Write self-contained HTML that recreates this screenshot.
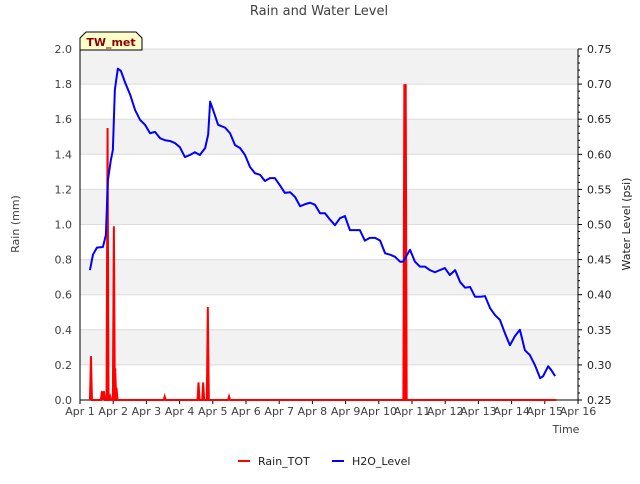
<!DOCTYPE html>
<html><head><meta charset="utf-8"><style>
body{margin:0;background:#fff;font-family:"DejaVu Sans","Liberation Sans",sans-serif;}
svg text{font-family:"DejaVu Sans","Liberation Sans",sans-serif;}
</style></head><body>
<svg id="c" width="640" height="480" xmlns="http://www.w3.org/2000/svg">
<text x="319" y="15" text-anchor="middle" font-size="13" fill="#404040">Rain and Water Level</text>
<g id="bands"></g><g id="grid"></g>
<g id="axes"></g>
<g id="series"></g>
<g>
<path d="M80,50 L80,38 L86,32 L136,32 L142,38 L142,50 Z" fill="#ffffcc" stroke="#000" stroke-width="1"/>
<text x="111" y="46" text-anchor="middle" font-size="11" font-weight="bold" fill="#8b0000">TW_met</text></g>
<text transform="translate(19,224) rotate(-90)" text-anchor="middle" font-size="11" fill="#404040">Rain (mm)</text>
<text transform="translate(630,224) rotate(-90)" text-anchor="middle" font-size="11" fill="#222">Water Level (psi)</text>
<text x="566" y="433" text-anchor="middle" font-size="11" fill="#404040">Time</text>
<g><line x1="238" y1="461" x2="250" y2="461" stroke="red" stroke-width="2"/><text x="258" y="465" font-size="11" fill="#222">Rain_TOT</text></g>
<g><line x1="332" y1="461" x2="344" y2="461" stroke="blue" stroke-width="2"/><text x="352" y="465" font-size="11" fill="#222">H2O_Level</text></g>
</svg>
<script>
const xTicks=["Apr 1","Apr 2","Apr 3","Apr 4","Apr 5","Apr 6","Apr 7","Apr 8","Apr 9","Apr 10","Apr 11","Apr 12","Apr 13","Apr 14","Apr 15","Apr 16"];
const leftTicks=[0,0.2,0.4,0.6,0.8,1.0,1.2,1.4,1.6,1.8,2.0];
const rightTicks=[0.25,0.30,0.35,0.40,0.45,0.50,0.55,0.60,0.65,0.70,0.75];
const rainDays=[0.33,0.66,0.72,0.83,0.91,1.02,1.06,1.10,2.55,3.57,3.71,3.85,4.49,9.77,9.81];
const rainVals=[0.25,0.05,0.05,1.55,0.02,0.99,0.18,0.07,0.02,0.10,0.10,0.53,0.02,1.80,1.80];
const h2oDays=[0.30,0.39,0.51,0.69,0.78,0.84,0.93,0.99,1.05,1.14,1.23,1.36,1.51,1.66,1.81,1.96,2.11,2.26,2.41,2.56,2.71,2.86,3.01,3.16,3.31,3.46,3.61,3.77,3.86,3.92,4.01,4.16,4.37,4.52,4.67,4.82,4.97,5.12,5.27,5.42,5.57,5.72,5.87,6.02,6.17,6.33,6.48,6.63,6.78,6.93,7.08,7.23,7.38,7.53,7.68,7.83,7.98,8.13,8.28,8.43,8.58,8.73,8.89,9.04,9.19,9.34,9.49,9.64,9.73,9.94,10.09,10.24,10.39,10.54,10.69,10.84,10.99,11.14,11.30,11.45,11.60,11.75,11.90,12.05,12.20,12.35,12.50,12.65,12.80,12.95,13.10,13.25,13.40,13.55,13.70,13.86,13.95,14.10,14.19,14.31];
const h2oVals=[0.435,0.457,0.467,0.468,0.485,0.563,0.592,0.606,0.692,0.722,0.719,0.702,0.685,0.663,0.649,0.642,0.630,0.632,0.623,0.620,0.619,0.616,0.610,0.596,0.599,0.603,0.599,0.609,0.628,0.675,0.663,0.642,0.638,0.630,0.613,0.609,0.599,0.582,0.573,0.571,0.562,0.566,0.566,0.556,0.545,0.546,0.539,0.526,0.529,0.531,0.528,0.516,0.516,0.507,0.499,0.509,0.512,0.492,0.492,0.492,0.477,0.481,0.481,0.477,0.459,0.457,0.454,0.447,0.447,0.464,0.447,0.440,0.440,0.435,0.432,0.435,0.438,0.428,0.435,0.418,0.410,0.411,0.397,0.397,0.398,0.381,0.371,0.364,0.345,0.328,0.341,0.350,0.321,0.314,0.300,0.281,0.284,0.298,0.293,0.284];
const X0=80,X1=578,Y0=400,Y1=49;
const xs=d=>X0+d*(X1-X0)/15;
const yL=v=>Y0-v*(Y0-Y1)/2;
const yR=v=>Y0-(v-0.25)*(Y0-Y1)/0.5;
const NS="http://www.w3.org/2000/svg";
function mk(t,a,p){const e=document.createElementNS(NS,t);for(const k in a)e.setAttribute(k,a[k]);p.appendChild(e);return e;}
const bands=document.getElementById('bands'),grid=document.getElementById('grid'),axes=document.getElementById('axes'),series=document.getElementById('series');
for(let i=0;i<leftTicks.length-1;i++){if(i%2===1){const r=mk('rect',{x:X0,y:yL(leftTicks[i+1]),width:X1-X0,height:yL(leftTicks[i])-yL(leftTicks[i+1]),fill:'#f2f2f2'},bands);

}}
leftTicks.forEach(v=>{const l=mk('line',{x1:X0,x2:X1,y1:yL(v),y2:yL(v),stroke:'#dcdcdc','stroke-width':1},grid);


const t=mk('text',{x:X0-8,y:yL(v)+4,'text-anchor':'end','font-size':11,fill:'#404040'},axes);t.textContent=v.toFixed(1);

});
rightTicks.forEach((v,i)=>{const t=mk('text',{x:X1+9,y:yR(v)+4,'font-size':11,fill:'#222'},axes);t.textContent=v.toFixed(2);


mk('line',{x1:X1,x2:X1+4,y1:yR(v),y2:yR(v),stroke:'#000'},axes);
if(i<rightTicks.length-1){for(let k=1;k<5;k++){const yy=yR(v+k*0.01);mk('line',{x1:X1,x2:X1+2,y1:yy,y2:yy,stroke:'#000'},axes);}}});
xTicks.forEach((s,i)=>{const t=mk('text',{x:xs(i),y:Y0+15,'text-anchor':'middle','font-size':11,fill:'#404040'},axes);t.textContent=s;


mk('line',{x1:xs(i),x2:xs(i),y1:Y0,y2:Y0+4,stroke:'#000'},axes);});
mk('line',{x1:X0,x2:X0,y1:Y1,y2:Y0,stroke:'#000'},axes);
mk('line',{x1:X1,x2:X1,y1:Y1,y2:Y0,stroke:'#000'},axes);
mk('line',{x1:X0,x2:X1,y1:Y0,y2:Y0,stroke:'#000'},axes);
let rp=[[xs(0.3),yL(0)]];
rainDays.forEach((d,i)=>{rp.push([xs(d-0.03),yL(0)],[xs(d),yL(rainVals[i])],[xs(d+0.03),yL(0)]);});
rp.push([xs(14.35),yL(0)]);
const rl=mk('polyline',{points:rp.map(p=>p.join(',')).join(' '),fill:'none',stroke:'red','stroke-width':2},series);


const hl=mk('polyline',{points:h2oDays.map((d,i)=>xs(d)+','+yR(h2oVals[i])).join(' '),fill:'none',stroke:'blue','stroke-width':2,'stroke-linejoin':'round'},series);


</script>
</body></html>
